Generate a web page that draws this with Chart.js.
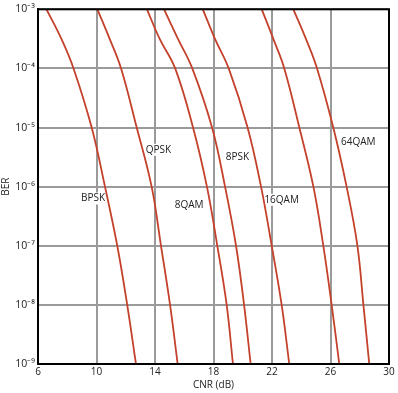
<!DOCTYPE html>
<html>
<head>
<meta charset="utf-8">
<script src="https://cdn.jsdelivr.net/npm/chart.js@4"></script>
<style>
  html, body { margin: 0; padding: 0; background: #fff; }
  #wrap { width: 398px; height: 393px; }
</style>
</head>
<body>
<div id="wrap"><canvas id="canvas"></canvas></div>
<script>
// BER levels and the CNR (dB) where each curve crosses them
var berLevels = [1e-3, 3.16e-4, 1e-4, 1e-5, 1e-6, 1e-7, 1e-8, 1e-9];
var bpsk  = [6.58, 7.60, 8.43, 9.67, 10.58, 11.42, 12.10, 12.70];
var qpsk  = [10.06, 10.90, 11.68, 12.75, 13.77, 14.41, 15.03, 15.55];
var qam8  = [13.45, 14.32, 15.38, 16.60, 17.55, 18.26, 18.90, 19.33];
var psk8  = [14.62, 15.57, 16.55, 17.90, 18.79, 19.54, 20.09, 20.54];
var qam16 = [17.27, 18.10, 19.04, 20.33, 21.25, 21.98, 22.66, 23.18];
var qam32 = [21.30, 22.09, 22.84, 23.87, 24.83, 25.51, 26.08, 26.60];
var qam64 = [23.46, 24.32, 25.08, 26.19, 27.10, 27.84, 28.25, 28.65];

var xTicks = [6, 10, 14, 18, 22, 26, 30];
var yTicks = [1e-9, 1e-8, 1e-7, 1e-6, 1e-5, 1e-4, 1e-3];

// curve labels: text, CNR, BER
var labelText = ['BPSK', 'QPSK', '8QAM', '8PSK', '16QAM', '64QAM'];
var labelX = [9.76, 14.23, 16.33, 19.63, 22.66, 27.9];
var labelY = [6.3e-7, 4.2e-6, 4.8e-7, 3.2e-6, 6.0e-7, 5.6e-6];

var curveColor = '#c4412b';
var curves = [bpsk, qpsk, qam8, psk8, qam16, qam32, qam64];

function pts(cnr) {
    return cnr.map(function(x, i) { return { x: x, y: berLevels[i] }; });
}

var sup = { '0': '⁰', '1': '¹', '2': '²', '3': '³', '4': '⁴', '5': '⁵', '6': '⁶', '7': '⁷', '8': '⁸', '9': '⁹' };

var labelsPlugin = {
    id: 'curveLabels',
    beforeDatasetsDraw: function(chart) {
        var ctx = chart.ctx, xs = chart.scales.x, ys = chart.scales.y;
        ctx.save();
        ctx.font = '10px "Open Sans", sans-serif';
        ctx.textAlign = 'center';
        ctx.textBaseline = 'middle';
        labelText.forEach(function(t, i) {
            var px = xs.getPixelForValue(labelX[i]);
            var py = ys.getPixelForValue(labelY[i]);
            var w = ctx.measureText(t).width;
            ctx.fillStyle = '#fff';
            ctx.fillRect(px - w / 2 - 1, py - 6, w + 2, 12);
            ctx.fillStyle = '#222';
            ctx.fillText(t, px, py);
        });
        ctx.restore();
    },
    afterDatasetsDraw: function(chart) {
        var a = chart.chartArea, ctx = chart.ctx;
        ctx.save();
        ctx.strokeStyle = '#000';
        ctx.lineWidth = 2;
        ctx.strokeRect(a.left, a.top, a.right - a.left, a.bottom - a.top);
        ctx.restore();
    }
};

window.onload = function() {
    var ctx = document.getElementById('canvas').getContext('2d');
    window.chart = new Chart(ctx, {
        type: 'line',
        data: {
            datasets: curves.map(function(c) {
                return {
                    data: pts(c),
                    borderColor: curveColor,
                    borderWidth: 1.8,
                    pointRadius: 0,
                    fill: false,
                    tension: 0.4
                };
            })
        },
        plugins: [labelsPlugin],
        options: {
            responsive: true,
            maintainAspectRatio: false,
            animation: false,
            layout: { padding: { top: 8, right: 9, left: 0, bottom: 0 } },
            plugins: {
                legend: { display: false },
                tooltip: { enabled: false }
            },
            scales: {
                x: {
                    type: 'linear',
                    min: 6,
                    max: 30,
                    afterBuildTicks: function(s) { s.ticks = xTicks.map(function(v) { return { value: v }; }); },
                    afterFit: function(s) { s.height = 29; },
                    grid: { color: '#9a9a9a', lineWidth: 2, drawTicks: false },
                    border: { color: '#000', width: 2 },
                    ticks: {
                        color: '#222',
                        padding: 2,
                        maxRotation: 0,
                        font: { family: '"Open Sans", sans-serif', size: 10 }
                    },
                    title: {
                        display: true,
                        text: 'CNR (dB)',
                        color: '#222',
                        padding: { top: 0, bottom: 2 },
                        font: { family: '"Open Sans", sans-serif', size: 10 }
                    }
                },
                y: {
                    type: 'logarithmic',
                    min: 1e-9,
                    max: 1e-3,
                    afterBuildTicks: function(s) { s.ticks = yTicks.map(function(v) { return { value: v }; }); },
                    afterFit: function(s) { s.width = 38; },
                    grid: { color: '#9a9a9a', lineWidth: 2, drawTicks: false },
                    border: { color: '#000', width: 2 },
                    ticks: {
                        color: '#222',
                        padding: 3,
                        font: { family: '"Open Sans", sans-serif', size: 10.5 },
                        callback: function(v) {
                            var e = Math.round(Math.log10(v));
                            return '10⁻' + String(-e).split('').map(function(d) { return sup[d]; }).join('');
                        }
                    },
                    title: {
                        display: true,
                        text: 'BER',
                        color: '#222',
                        padding: 0,
                        font: { family: '"Open Sans", sans-serif', size: 10 }
                    }
                }
            }
        }
    });
};
</script>
</body>
</html>
